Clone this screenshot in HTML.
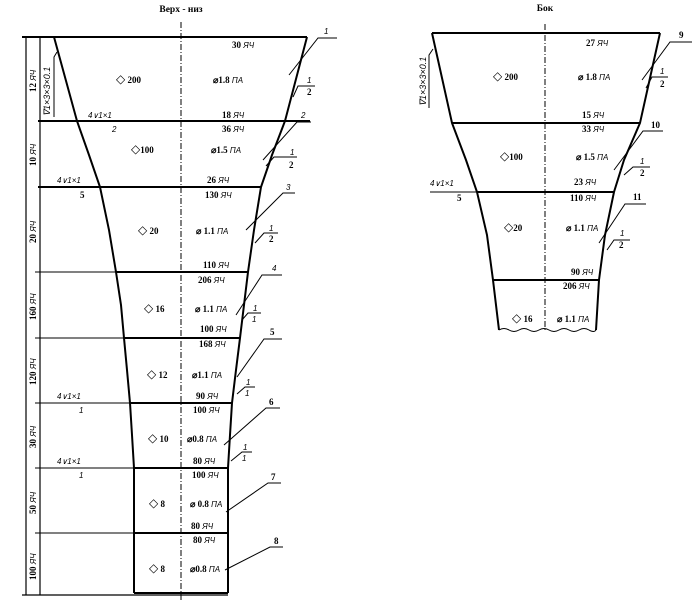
<!DOCTYPE html>
<html><head><meta charset="utf-8"><style>
html,body{margin:0;padding:0;background:#fff;}
svg{display:block;}
text{font-family:"Liberation Serif",serif;font-size:9px;font-weight:bold;fill:#000;}
.i{font-family:"Liberation Sans",sans-serif;font-style:italic;font-weight:normal;font-size:8px;}
.t{font-size:9.5px;}
.d{font-size:12px;font-weight:normal;}
.w{font-size:9px;}
</style></head><body>
<svg width="699" height="602" viewBox="0 0 699 602" xmlns="http://www.w3.org/2000/svg">
<g fill="none" stroke="#000">
<line x1="181" y1="22" x2="181" y2="600" stroke-width="1" stroke-dasharray="6,2,1,2"/>
<line x1="22" y1="37" x2="307" y2="37" stroke-width="2"/>
<line x1="26" y1="37" x2="26" y2="595" stroke-width="1.2"/>
<line x1="40" y1="37" x2="40" y2="595" stroke-width="1.2"/>
<line x1="22" y1="595" x2="228" y2="595" stroke-width="1.2"/>
<polyline points="54,37 77,121 89,155 100,187 109,230 116,272 121,305 124,338 127,370 130,403 132,435 134,468 134,593" stroke-width="2"/>
<polyline points="307,37 285,121 272,155 261,187 254,230 248,272 244,305 240,338 236,370 232,403 230,435 228,468 228,593" stroke-width="2"/>
<line x1="38" y1="121" x2="310" y2="121" stroke-width="2"/>
<line x1="38" y1="187" x2="261" y2="187" stroke-width="2"/>
<line x1="35" y1="272" x2="116" y2="272" stroke-width="1"/>
<line x1="116" y1="272" x2="248" y2="272" stroke-width="2"/>
<line x1="35" y1="338" x2="124" y2="338" stroke-width="1"/>
<line x1="124" y1="338" x2="240" y2="338" stroke-width="2"/>
<line x1="35" y1="403" x2="130" y2="403" stroke-width="1"/>
<line x1="130" y1="403" x2="232" y2="403" stroke-width="2"/>
<line x1="35" y1="468" x2="134" y2="468" stroke-width="1"/>
<line x1="134" y1="468" x2="228" y2="468" stroke-width="2"/>
<line x1="35" y1="533" x2="134" y2="533" stroke-width="1"/>
<line x1="134" y1="533" x2="228" y2="533" stroke-width="2"/>
<line x1="134" y1="593" x2="228" y2="593" stroke-width="2"/>
<polyline points="54,117 54,57 57,52" stroke-width="1"/>
<g stroke-width="1">
<polyline points="337,38 318,38 289,75"/><polyline points="315,86 298,86 293,97"/>
<polyline points="311,122 297,122 263,160"/><polyline points="297,157 274,157 266,166"/>
<polyline points="295,193 283,193 246,230"/><polyline points="278,233 264,233 255,243"/>
<polyline points="282,275 262,275 236,315"/><polyline points="261,313 248,313 242,320"/>
<polyline points="282,339 264,339 237,377"/><polyline points="255,387 245,387 237,394"/>
<polyline points="280,408 266,408 224,445"/><polyline points="252,452 242,452 231,461"/>
<polyline points="281,483 268,483 226,512"/>
<polyline points="283,547 270,547 225,570"/>
</g>
<line x1="545" y1="24" x2="545" y2="332" stroke-width="1" stroke-dasharray="6,2,1,2"/>
<line x1="432" y1="33" x2="660" y2="33" stroke-width="2"/>
<polyline points="432,33 452,123 466,160 477,192 487,235 493,280 499,330" stroke-width="2"/>
<polyline points="660,33 640,123 624,160 614,192 605,235 599,280 596,330" stroke-width="2"/>
<line x1="452" y1="123" x2="640" y2="123" stroke-width="2"/>
<line x1="430" y1="192" x2="477" y2="192" stroke-width="1"/>
<line x1="477" y1="192" x2="614" y2="192" stroke-width="2"/>
<line x1="493" y1="280" x2="599" y2="280" stroke-width="2"/>
<path d="M499,330 q5,-3 10,0 t10,0 t10,0 t10,0 t10,0 t10,0 t10,0 t10,0 t10,0 t7,0" stroke-width="1"/>
<polyline points="429,108 429,55 433,49" stroke-width="1"/>
<g stroke-width="1">
<polyline points="692,42 670,42 642,80"/><polyline points="668,77 652,77 646,88"/>
<polyline points="663,131 643,131 614,170"/><polyline points="650,167 633,167 624,175"/>
<polyline points="646,204 625,204 599,243"/><polyline points="630,240 614,240 607,250"/>
</g>
</g>
<text x="181" y="12" text-anchor="middle" class="t">Верх - низ</text>
<text x="232" y="48">30 <tspan class="i">ЯЧ</tspan></text>
<text x="116" y="83"><tspan class="d">◇</tspan> 200</text>
<text x="213" y="83">⌀1.8 <tspan class="i">ПА</tspan></text>
<text x="222" y="118">18 <tspan class="i">ЯЧ</tspan></text>
<text x="222" y="132">36 <tspan class="i">ЯЧ</tspan></text>
<text x="131" y="153"><tspan class="d">◇</tspan>100</text>
<text x="211" y="153">⌀1.5 <tspan class="i">ПА</tspan></text>
<text x="207" y="183">26 <tspan class="i">ЯЧ</tspan></text>
<text x="205" y="198">130 <tspan class="i">ЯЧ</tspan></text>
<text x="138" y="234"><tspan class="d">◇</tspan> 20</text>
<text x="196" y="234">⌀ 1.1 <tspan class="i">ПА</tspan></text>
<text x="203" y="268">110 <tspan class="i">ЯЧ</tspan></text>
<text x="198" y="283">206 <tspan class="i">ЯЧ</tspan></text>
<text x="144" y="312"><tspan class="d">◇</tspan> 16</text>
<text x="195" y="312">⌀ 1.1 <tspan class="i">ПА</tspan></text>
<text x="200" y="332">100 <tspan class="i">ЯЧ</tspan></text>
<text x="199" y="347">168 <tspan class="i">ЯЧ</tspan></text>
<text x="147" y="378"><tspan class="d">◇</tspan> 12</text>
<text x="192" y="378">⌀1.1 <tspan class="i">ПА</tspan></text>
<text x="196" y="399">90 <tspan class="i">ЯЧ</tspan></text>
<text x="193" y="413">100 <tspan class="i">ЯЧ</tspan></text>
<text x="148" y="442"><tspan class="d">◇</tspan> 10</text>
<text x="187" y="442">⌀0.8 <tspan class="i">ПА</tspan></text>
<text x="193" y="464">80 <tspan class="i">ЯЧ</tspan></text>
<text x="192" y="478">100 <tspan class="i">ЯЧ</tspan></text>
<text x="149" y="507"><tspan class="d">◇</tspan> 8</text>
<text x="190" y="507">⌀ 0.8 <tspan class="i">ПА</tspan></text>
<text x="191" y="529">80 <tspan class="i">ЯЧ</tspan></text>
<text x="193" y="543">80 <tspan class="i">ЯЧ</tspan></text>
<text x="149" y="572"><tspan class="d">◇</tspan> 8</text>
<text x="190" y="572">⌀0.8 <tspan class="i">ПА</tspan></text>
<text x="88" y="118" class="i">4∨1×1</text>
<text x="112" y="132" class="i">2</text>
<text x="57" y="183" class="i">4∨1×1</text>
<text x="80" y="198">5</text>
<text x="57" y="399" class="i">4∨1×1</text>
<text x="79" y="413" class="i">1</text>
<text x="57" y="464" class="i">4∨1×1</text>
<text x="79" y="478" class="i">1</text>
<text transform="translate(50,116) rotate(-90)" class="i w">∇1×3×3×0.1</text>
<text transform="translate(36,92) rotate(-90)">12 <tspan class="i">ЯЧ</tspan></text>
<text transform="translate(36,166) rotate(-90)">10 <tspan class="i">ЯЧ</tspan></text>
<text transform="translate(36,243) rotate(-90)">20 <tspan class="i">ЯЧ</tspan></text>
<text transform="translate(36,320) rotate(-90)">160 <tspan class="i">ЯЧ</tspan></text>
<text transform="translate(36,385) rotate(-90)">120 <tspan class="i">ЯЧ</tspan></text>
<text transform="translate(36,448) rotate(-90)">30 <tspan class="i">ЯЧ</tspan></text>
<text transform="translate(36,514) rotate(-90)">50 <tspan class="i">ЯЧ</tspan></text>
<text transform="translate(36,580) rotate(-90)">100 <tspan class="i">ЯЧ</tspan></text>
<text x="324" y="34" class="i">1</text>
<text x="307" y="83" class="i">1</text><text x="307" y="95">2</text>
<text x="301" y="118" class="i">2</text>
<text x="290" y="155" class="i">1</text><text x="289" y="168">2</text>
<text x="286" y="190" class="i">3</text>
<text x="269" y="231" class="i">1</text><text x="269" y="242">2</text>
<text x="272" y="271" class="i">4</text>
<text x="253" y="311" class="i">1</text><text x="252" y="322" class="i">1</text>
<text x="270" y="335">5</text>
<text x="246" y="385" class="i">1</text><text x="245" y="396" class="i">1</text>
<text x="269" y="405">6</text>
<text x="243" y="450" class="i">1</text><text x="242" y="461" class="i">1</text>
<text x="271" y="480">7</text>
<text x="274" y="544">8</text>
<text x="545" y="11" text-anchor="middle" class="t">Бок</text>
<text x="586" y="46">27 <tspan class="i">ЯЧ</tspan></text>
<text x="493" y="80"><tspan class="d">◇</tspan> 200</text>
<text x="578" y="80">⌀ 1.8 <tspan class="i">ПА</tspan></text>
<text x="582" y="118">15 <tspan class="i">ЯЧ</tspan></text>
<text x="582" y="132">33 <tspan class="i">ЯЧ</tspan></text>
<text x="500" y="160"><tspan class="d">◇</tspan>100</text>
<text x="576" y="160">⌀ 1.5 <tspan class="i">ПА</tspan></text>
<text x="574" y="185">23 <tspan class="i">ЯЧ</tspan></text>
<text x="570" y="201">110 <tspan class="i">ЯЧ</tspan></text>
<text x="504" y="231"><tspan class="d">◇</tspan>20</text>
<text x="566" y="231">⌀ 1.1 <tspan class="i">ПА</tspan></text>
<text x="571" y="275">90 <tspan class="i">ЯЧ</tspan></text>
<text x="563" y="289">206 <tspan class="i">ЯЧ</tspan></text>
<text x="512" y="322"><tspan class="d">◇</tspan> 16</text>
<text x="557" y="322">⌀ 1.1 <tspan class="i">ПА</tspan></text>
<text x="430" y="186" class="i">4∨1×1</text>
<text x="457" y="201">5</text>
<text transform="translate(426,106) rotate(-90)" class="i w">∇1×3×3×0.1</text>
<text x="679" y="38">9</text>
<text x="660" y="74" class="i">1</text><text x="660" y="87">2</text>
<text x="651" y="128">10</text>
<text x="640" y="164" class="i">1</text><text x="640" y="176">2</text>
<text x="633" y="200">11</text>
<text x="620" y="236" class="i">1</text><text x="619" y="248">2</text>
</svg>
</body></html>
